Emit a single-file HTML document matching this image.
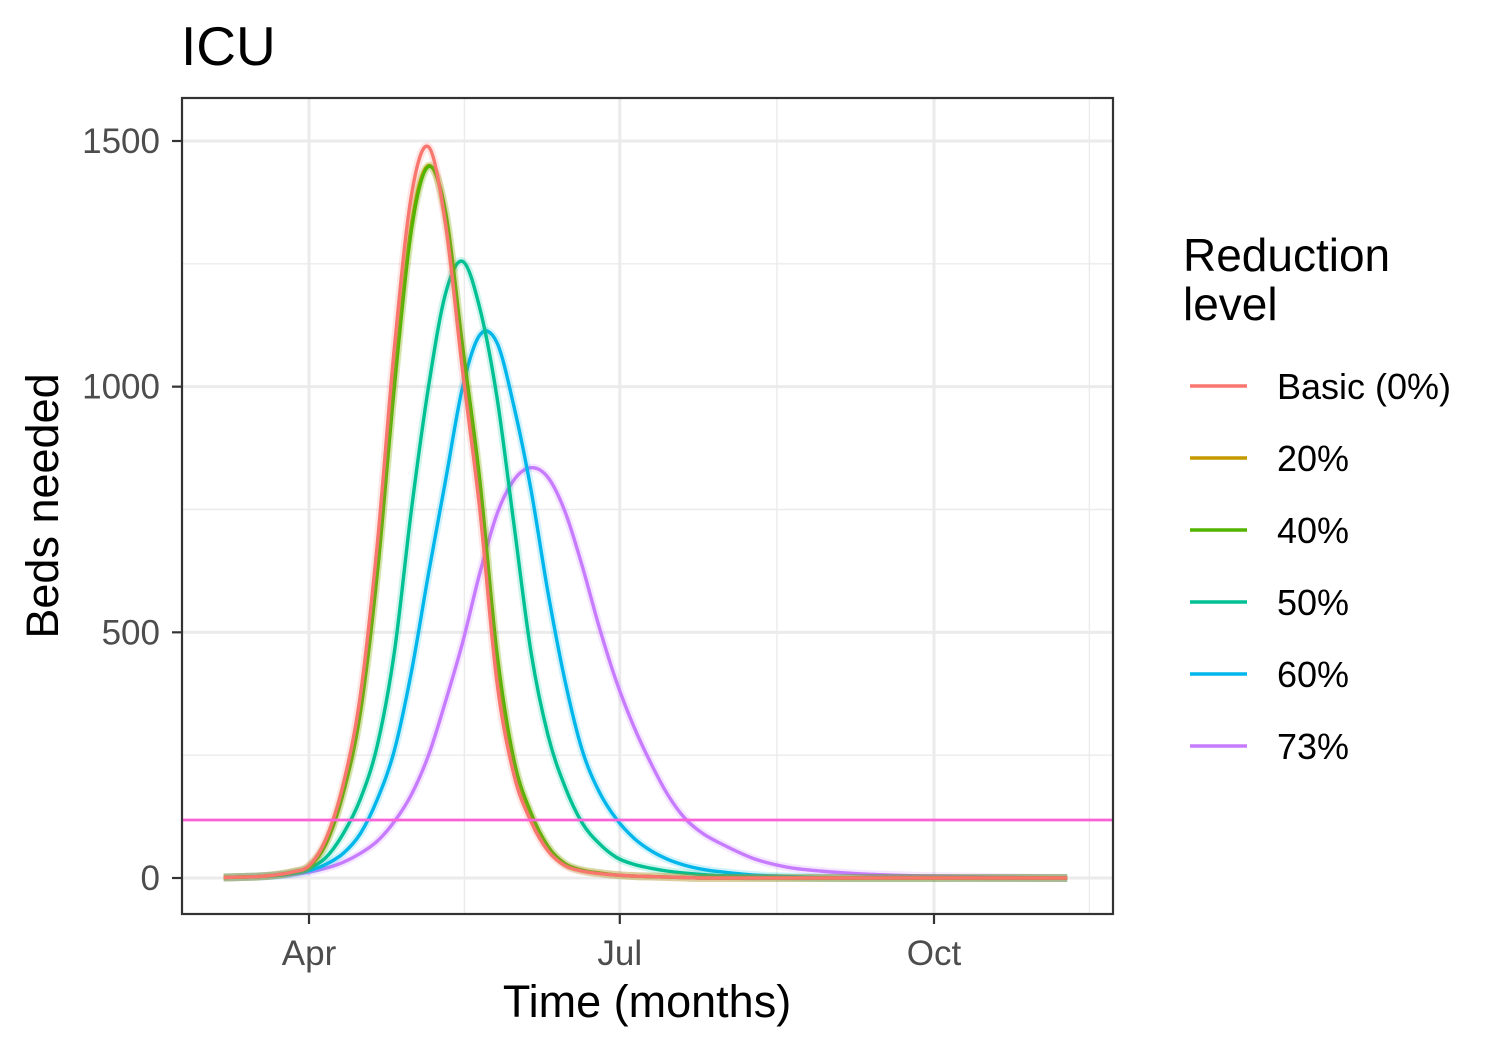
<!DOCTYPE html>
<html><head><meta charset="utf-8"><style>
html,body{margin:0;padding:0;background:#fff;}
svg{display:block;font-family:"Liberation Sans",Arial,sans-serif;}
</style></head><body>
<svg id="chart" width="1500" height="1049" viewBox="0 0 1500 1049">
<text x="181" y="65" font-size="55" fill="#000">ICU</text>
<rect x="182" y="98" width="931" height="816" fill="#fff"/>
<g id="grid"></g>
<g id="series"></g>
<line id="hline" x1="182" x2="1113" stroke="#FB61D7" stroke-width="2.8"/>
<rect x="182" y="98" width="931" height="816" fill="none" stroke="#333" stroke-width="2.2"/>
<g id="axes"></g>
<text x="647" y="1017" font-size="45" text-anchor="middle" fill="#000">Time (months)</text>
<text transform="translate(58,506) rotate(-90)" font-size="45" text-anchor="middle" fill="#000">Beds needed</text>
<g>
<text x="1183" y="271" font-size="46" fill="#000">Reduction</text>
<text x="1183" y="320" font-size="46" fill="#000">level</text>
<g id="legend"></g>
</g>
</svg>
<script>
const days=[-25,-20,-15,-10,-5,0,5,10,15,20,25,30,35,40,45,50,55,60,65,70,75,80,85,90,95,100,105,110,115,120,130,140,150,160,170,180,190,200,210,222];
const basic=[1,2,3,6,12,25,80,190,370,680,1080,1390,1488,1330,1030,750,400,210,115,55,25,14,9,6,4,3,2,1,0,0,0,0,0,0,0,0,0,0,0,0];
const r20=[1,2,3,6,12,24,72,175,340,630,1010,1330,1450,1350,1070,800,450,235,128,62,28,15,10,6,4,3,2,1,0,0,0,0,0,0,0,0,0,0,0,0];
const r40=[1,2,3,6,12,23,70,172,335,620,1000,1320,1448,1355,1080,810,460,240,132,64,29,16,10,6,4,3,2,1,0,0,0,0,0,0,0,0,0,0,0,0];
const r50=[1,2,3,5,10,20,42,90,160,270,460,750,1000,1190,1255,1160,980,720,460,290,185,112,70,42,28,20,14,10,7,5,2,1,0,0,0,0,0,0,0,0];
const r60=[1,2,3,5,9,15,28,50,90,160,260,420,620,810,1000,1105,1090,960,790,580,400,260,175,120,82,56,38,26,18,13,6,3,1,0,0,0,0,0,0,0];
const r73=[1,2,3,5,7,12,20,32,50,75,115,170,250,360,480,620,740,810,835,815,745,635,510,400,310,235,170,122,92,72,40,22,14,9,6,4,3,2,1,0];
const seriesNames=["Basic (0%)","20%","40%","50%","60%","73%"];
const seriesData=[basic,r20,r40,r50,r60,r73];
const colors=["#F8766D","#C49A00","#53B400","#00C094","#00B6EB","#C77CFF"];
const yTicks=[0,500,1000,1500];
const yMinor=[250,750,1250];
const xTickDays=[0,91,183];
const xTickLabels=["Apr","Jul","Oct"];
const xMinorDays=[45.5,137,228.5];
const capacity=118;

const NS="http://www.w3.org/2000/svg";
const X=d=>309+d*(625/183);
const Y=v=>878-v*(737/1500);
function el(t,a,p){const e=document.createElementNS(NS,t);for(const k in a)e.setAttribute(k,a[k]);p.appendChild(e);return e;}
const grid=document.getElementById('grid'),axes=document.getElementById('axes');
yMinor.forEach(v=>{const l=el('line',{x1:182,x2:1113,y1:Y(v),y2:Y(v),stroke:'#ebebeb','stroke-width':1.4},grid);

});
xMinorDays.forEach(d=>{const l=el('line',{x1:X(d),x2:X(d),y1:98,y2:914,stroke:'#ebebeb','stroke-width':1.4},grid);

});
yTicks.forEach(v=>{const l=el('line',{x1:182,x2:1113,y1:Y(v),y2:Y(v),stroke:'#ebebeb','stroke-width':3},grid);


const t=el('line',{x1:172,x2:182,y1:Y(v),y2:Y(v),stroke:'#333','stroke-width':2.2},axes);


const tx=el('text',{x:160,y:Y(v)+12,'font-size':35,'text-anchor':'end',fill:'#4d4d4d'},axes);tx.textContent=v;

});
xTickDays.forEach((d,i)=>{const l=el('line',{x1:X(d),x2:X(d),y1:98,y2:914,stroke:'#ebebeb','stroke-width':3},grid);


const t=el('line',{x1:X(d),x2:X(d),y1:914,y2:924,stroke:'#333','stroke-width':2.2},axes);


const tx=el('text',{x:X(d),y:965,'font-size':35,'text-anchor':'middle',fill:'#4d4d4d'},axes);tx.textContent=xTickLabels[i];

});
const hl=document.getElementById('hline');hl.setAttribute('y1',Y(capacity));hl.setAttribute('y2',Y(capacity));
function pathFor(vals){const p=days.map((d,i)=>[X(d),Y(vals[i])]);let s='M'+p[0][0]+','+p[0][1];
for(let i=0;i<p.length-1;i++){const p0=p[Math.max(i-1,0)],p1=p[i],p2=p[i+1],p3=p[Math.min(i+2,p.length-1)];
let c1y=p1[1]+(p2[1]-p0[1])/6,c2y=p2[1]-(p3[1]-p1[1])/6;c1y=Math.min(c1y,878);c2y=Math.min(c2y,878);
s+=' C'+(p1[0]+(p2[0]-p0[0])/6)+','+c1y+' '+(p2[0]-(p3[0]-p1[0])/6)+','+c2y+' '+p2[0]+','+p2[1];}return s;}
const sg=document.getElementById('series'),lg=document.getElementById('legend');
[5,4,3,1,2,0].forEach(k=>{const r=el('path',{d:pathFor(seriesData[k]),fill:'none',stroke:colors[k],'stroke-opacity':0.18,'stroke-width':8,'stroke-linejoin':'round'},sg);


const l=el('path',{d:pathFor(seriesData[k]),fill:'none',stroke:colors[k],'stroke-width':3.4,'stroke-linejoin':'round'},sg);

});
seriesNames.forEach((n,i)=>{const y=386+i*72;
const l=el('line',{x1:1190,x2:1247,y1:y,y2:y,stroke:colors[i],'stroke-width':3.4},lg);


const t=el('text',{x:1277,y:y+13,'font-size':36,fill:'#000'},lg);t.textContent=n;

});
</script>
</body></html>
